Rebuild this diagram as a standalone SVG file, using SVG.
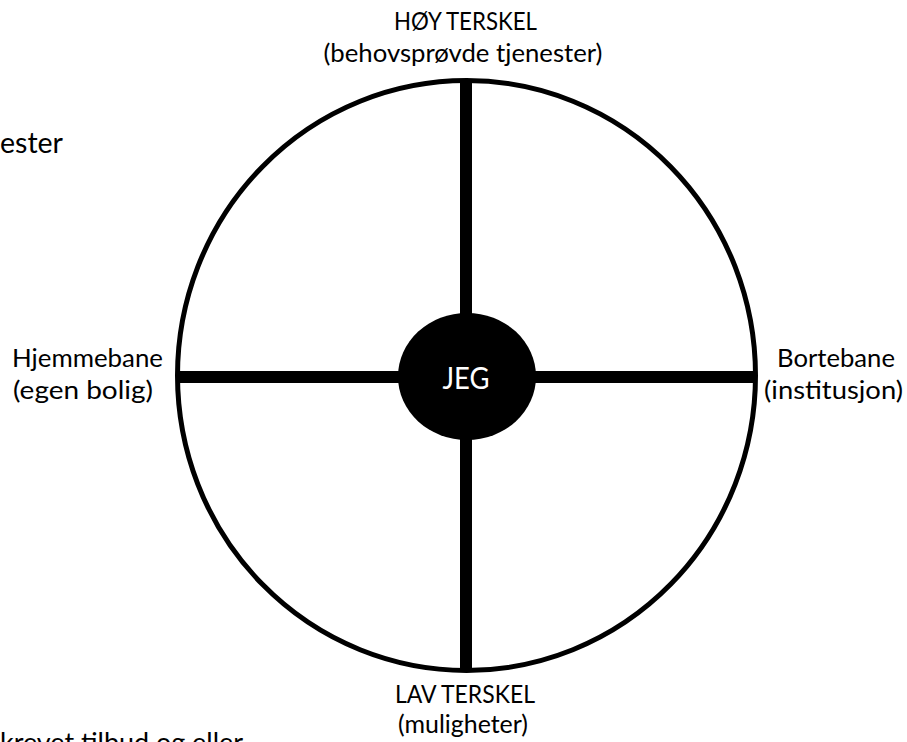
<svg xmlns="http://www.w3.org/2000/svg" width="907" height="742" viewBox="0 0 907 742">
<style>
.lbl{font-family:Lato,"Open Sans","Liberation Sans",sans-serif;font-size:25px;fill:#000;text-anchor:middle}
.jeg{font-family:Lato,"Open Sans","Liberation Sans",sans-serif;font-size:31px;fill:#fff;text-anchor:middle}
.axis{stroke:#000;stroke-width:12;fill:none}
</style>
<rect width="907" height="742" fill="#fff"/>
<text class="lbl" x="63" y="153" style="text-anchor:end;font-size:28px" textLength="63" lengthAdjust="spacingAndGlyphs">ester</text>
<text class="lbl" x="0" y="752" style="text-anchor:start;font-size:27px" textLength="243" lengthAdjust="spacingAndGlyphs">krevet tilbud og eller</text>
<g id="ring">
<ellipse cx="466.5" cy="375.5" rx="289" ry="295" fill="none" stroke="#000" stroke-width="5"/>
</g>
<g id="connectors">
<line class="axis" x1="466" y1="80" x2="466" y2="670"/>
<line class="axis" x1="178" y1="377" x2="755" y2="377"/>
</g>
<g id="jeg">
<ellipse cx="467" cy="376.5" rx="69" ry="63.5" fill="#000"/>
<text class="jeg" x="466" y="389" textLength="47" lengthAdjust="spacingAndGlyphs">JEG</text>
</g>
<g id="hoy">
<text class="lbl" x="465.5" y="30" textLength="143" lengthAdjust="spacingAndGlyphs">HØY TERSKEL</text>
<text class="lbl" x="463" y="62" textLength="279" lengthAdjust="spacingAndGlyphs">(behovsprøvde tjenester)</text>
</g>
<g id="lav">
<text class="lbl" x="465" y="703" textLength="140" lengthAdjust="spacingAndGlyphs">LAV TERSKEL</text>
<text class="lbl" x="463" y="733" textLength="130" lengthAdjust="spacingAndGlyphs">(muligheter)</text>
</g>
<g id="hjemme">
<text class="lbl" x="87.5" y="367" textLength="151" lengthAdjust="spacingAndGlyphs">Hjemmebane</text>
<text class="lbl" x="83" y="399" textLength="140" lengthAdjust="spacingAndGlyphs">(egen bolig)</text>
</g>
<g id="borte">
<text class="lbl" x="836" y="367" textLength="118" lengthAdjust="spacingAndGlyphs">Bortebane</text>
<text class="lbl" x="833.5" y="399" textLength="139" lengthAdjust="spacingAndGlyphs">(institusjon)</text>
</g>
</svg>
